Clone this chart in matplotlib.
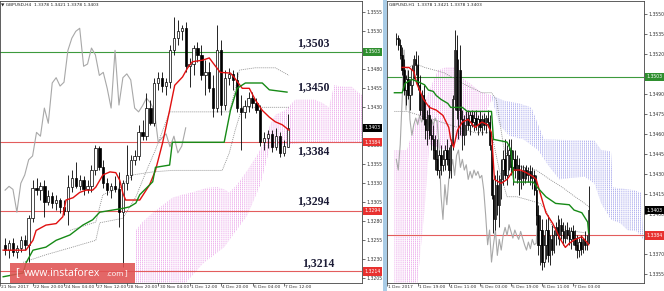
import numpy as np
import matplotlib
matplotlib.use("Agg")
import matplotlib.pyplot as plt
from matplotlib.patches import Rectangle
from matplotlib.transforms import Bbox, TransformedBbox, blended_transform_factory

plt.rcParams["hatch.linewidth"] = 0.45

# ── H4 panel (left) ───────────────────────────────────────────────────────────
H4_OPEN = [1.3249, 1.3242, 1.3251, 1.3240, 1.3245, 1.3255, 1.3249, 1.3284, 1.3324, 1.3321,
           1.3326, 1.3305, 1.3313, 1.3304, 1.3308, 1.3299, 1.3293, 1.3325, 1.3337, 1.3326,
           1.3334, 1.3322, 1.3326, 1.3347, 1.3376, 1.3351, 1.3330, 1.3321, 1.3326, 1.3322,
           1.3292, 1.3330, 1.3341, 1.3361, 1.3366, 1.3397, 1.3392, 1.3429, 1.3409, 1.3462,
           1.3469, 1.3458, 1.3463, 1.3505, 1.3521, 1.3530, 1.3534, 1.3484, 1.3487, 1.3508,
           1.3499, 1.3472, 1.3476, 1.3455, 1.3429, 1.3505, 1.3433, 1.3469, 1.3474, 1.3466,
           1.3429, 1.3424, 1.3432, 1.3442, 1.3436, 1.3426, 1.3384, 1.3390, 1.3395, 1.3378,
           1.3392, 1.3370, 1.3378]
H4_HIGH = [1.3258, 1.3255, 1.3258, 1.3249, 1.3261, 1.3262, 1.3288, 1.3334, 1.3337, 1.3332,
           1.3334, 1.3321, 1.3318, 1.3315, 1.3311, 1.3308, 1.3341, 1.3347, 1.3358, 1.3341,
           1.3340, 1.3334, 1.3354, 1.3380, 1.3379, 1.3361, 1.3337, 1.3330, 1.3340, 1.3345,
           1.3334, 1.3380, 1.3367, 1.3374, 1.3407, 1.3413, 1.3449, 1.3440, 1.3469, 1.3476,
           1.3476, 1.3469, 1.3512, 1.3549, 1.3545, 1.3538, 1.3542, 1.3495, 1.3512, 1.3516,
           1.3512, 1.3492, 1.3490, 1.3472, 1.3538, 1.3519, 1.3479, 1.3482, 1.3479, 1.3476,
           1.3446, 1.3440, 1.3450, 1.3450, 1.3442, 1.3433, 1.3397, 1.3400, 1.3400, 1.3403,
           1.3397, 1.3387, 1.3421]
H4_LOW = [1.3236, 1.3232, 1.3234, 1.3232, 1.3240, 1.3242, 1.3226, 1.3279, 1.3315, 1.3308,
          1.3286, 1.3301, 1.3297, 1.3295, 1.3291, 1.3288, 1.3275, 1.3318, 1.3324, 1.3321,
          1.3315, 1.3317, 1.3318, 1.3341, 1.3347, 1.3324, 1.3315, 1.3311, 1.3318, 1.3272,
          1.3220, 1.3321, 1.3334, 1.3354, 1.3361, 1.3387, 1.3387, 1.3407, 1.3405, 1.3453,
          1.3450, 1.3446, 1.3455, 1.3499, 1.3512, 1.3519, 1.3476, 1.3457, 1.3472, 1.3490,
          1.3466, 1.3446, 1.3450, 1.3417, 1.3424, 1.3420, 1.3426, 1.3459, 1.3453, 1.3424,
          1.3374, 1.3416, 1.3424, 1.3429, 1.3422, 1.3379, 1.3374, 1.3376, 1.3371, 1.3374,
          1.3365, 1.3366, 1.3378]
H4_CLOSE = [1.3242, 1.3251, 1.3240, 1.3245, 1.3255, 1.3249, 1.3284, 1.3324, 1.3321, 1.3326,
            1.3305, 1.3313, 1.3304, 1.3308, 1.3299, 1.3293, 1.3325, 1.3337, 1.3326, 1.3334,
            1.3322, 1.3326, 1.3347, 1.3376, 1.3351, 1.3330, 1.3321, 1.3326, 1.3322, 1.3292,
            1.3330, 1.3341, 1.3361, 1.3366, 1.3397, 1.3392, 1.3429, 1.3409, 1.3462, 1.3469,
            1.3458, 1.3463, 1.3505, 1.3521, 1.3530, 1.3534, 1.3484, 1.3487, 1.3508, 1.3499,
            1.3472, 1.3476, 1.3455, 1.3429, 1.3505, 1.3433, 1.3469, 1.3474, 1.3466, 1.3429,
            1.3424, 1.3432, 1.3442, 1.3436, 1.3426, 1.3384, 1.3390, 1.3395, 1.3378, 1.3392,
            1.3370, 1.3379, 1.3403]

H4_TENKAN_X = [-0.5, 5.3, 7.1, 7.9, 10.4, 13, 14.7, 15.5, 17.3, 19, 20.6, 22.3, 23.1, 24.9,
               26.7, 28.2, 29.2, 30, 30.7, 34.3, 36.8, 38.3, 40.1, 41.9, 43.2, 45.2, 46.5,
               47.7, 50.3, 52, 53.3, 54.8, 57.4, 58.4, 60.4, 62.2, 63.7, 65.5, 67.3, 68.8,
               70.6, 72.3]
H4_TENKAN = [1.3242, 1.3242, 1.3255, 1.3268, 1.3275, 1.3277, 1.3286, 1.3308, 1.3311, 1.3318,
             1.3321, 1.3321, 1.3325, 1.3341, 1.3345, 1.3344, 1.3334, 1.3317, 1.3308, 1.3308,
             1.3328, 1.3347, 1.3383, 1.3426, 1.3459, 1.3470, 1.3482, 1.3490, 1.3492, 1.3495,
             1.3486, 1.3476, 1.3475, 1.3469, 1.3455, 1.3455, 1.3440, 1.3426, 1.3417, 1.3411,
             1.3407, 1.3400]
H4_KIJUN_X = [-0.5, 4.6, 5.3, 7.1, 10.4, 13, 16.5, 19.8, 22.3, 24.1, 30, 31.7, 33.3, 34.3,
              37.6, 38.3, 41.9, 42.6, 55.8, 57.4, 59.1, 61.2, 65.5, 67.3, 71.8]
H4_KIJUN = [1.3207, 1.3212, 1.3225, 1.3242, 1.3246, 1.3255, 1.3262, 1.3275, 1.3282, 1.3292,
            1.3297, 1.3299, 1.3304, 1.3315, 1.3332, 1.3351, 1.3354, 1.3384, 1.3384, 1.3426,
            1.3455, 1.3462, 1.3462, 1.3453, 1.3450]

H4_CLOUD_TOP_X = [33.3, 35.0, 37.6, 40.1, 42.6, 45.2, 47.7, 49.5, 51.5, 54.1, 55.8, 57.1, 59.1,
                  61.7, 64.2, 66.3, 67.5, 68.8, 71.3, 73.9, 78.9, 80.7, 82.5, 83.8, 86.3, 88.3,
                  90.1, 91.4]
H4_CLOUD_TOP = [1.3268, 1.3279, 1.3291, 1.3301, 1.3311, 1.3315, 1.3318, 1.3321, 1.3324, 1.3325,
                1.3322, 1.3318, 1.3328, 1.3347, 1.3367, 1.3387, 1.3407, 1.3420, 1.3426, 1.3440,
                1.3440, 1.3436, 1.3430, 1.3459, 1.3457, 1.3457, 1.3449, 1.3444]
H4_CLOUD_BOT_X = [33.3, 44.4, 50.3, 55.8, 61.7, 65.0, 67.3, 69.3, 75.6, 91.4]
H4_CLOUD_BOT = [1.3190, 1.3190, 1.3224, 1.3246, 1.3288, 1.3328, 1.3374, 1.3380, 1.3383, 1.3383]

H4_DOT1_X = [4.6, 10.4, 16.5, 23.1, 24.1, 30, 33.3, 35.8, 38.3, 41.9, 57.1, 58.4, 59.7, 63.7, 68.8, 72.3]
H4_DOT1 = [1.3226, 1.3236, 1.3245, 1.3255, 1.3278, 1.3284, 1.3312, 1.3344, 1.3374, 1.3424,
           1.3424, 1.3449, 1.3479, 1.3482, 1.3482, 1.3472]
H4_DOT2_X = [16.5, 23.1, 24.9, 29.2, 32.5, 37.6, 42.6, 55.3, 57.1, 58.6, 60.4, 63.7, 72.3]
H4_DOT2 = [1.3268, 1.3279, 1.3315, 1.3324, 1.3341, 1.3345, 1.3347, 1.3347, 1.3370, 1.3400,
           1.3430, 1.3430, 1.3430]

H4_XLABELS = ["21 Nov 2017", "22 Nov 20:00", "24 Nov 04:00", "27 Nov 12:00", "28 Nov 20:00",
              "30 Nov 04:00", "1 Dec 12:00", "4 Dec 20:00", "6 Dec 04:00", "7 Dec 12:00"]
H4_XLABEL_POS = [-1.3, 7.05, 15.05, 23.05, 31.05, 39.05, 47.05, 55.05, 63.05, 71.05]
# 1.3505 and 1.3405 sit fully under the price boxes, so they are left out
H4_YTICKS = [1.3555, 1.3530, 1.3480, 1.3455, 1.3430, 1.3380, 1.3355, 1.3330,
             1.3305, 1.3280, 1.3255, 1.3230, 1.3205]
H4_GREEN_LEVELS = [1.3503]
H4_RED_LEVELS = [1.3384, 1.3294, 1.3214]
H4_LEVEL_TEXT = ["1,3503", "1,3450", "1,3384", "1,3294", "1,3214"]
H4_LEVEL_TEXT_X = [74.3, 74.3, 74.3, 74.3, 75.6]
H4_LEVEL_TEXT_Y = [1.3515, 1.3457, 1.3372, 1.3306, 1.3225]

# ── H1 panel (right) ──────────────────────────────────────────────────────────
H1_OPEN = [1.3531, 1.3532, 1.3527, 1.3519, 1.3508, 1.3493, 1.3501, 1.3489, 1.3497, 1.3508,
           1.3516, 1.3512, 1.3497, 1.3478, 1.3489, 1.3471, 1.3463, 1.3474, 1.3459, 1.3456,
           1.3448, 1.3441, 1.3433, 1.3444, 1.3437, 1.3441, 1.3448, 1.3441, 1.3433, 1.3452,
           1.3486, 1.3523, 1.3478, 1.3508, 1.3471, 1.3459, 1.3467, 1.3472, 1.3467, 1.3474,
           1.3469, 1.3472, 1.3467, 1.3471, 1.3465, 1.3471, 1.3467, 1.3472, 1.3469, 1.3452,
           1.3414, 1.3396, 1.3422, 1.3407, 1.3426, 1.3433, 1.3441, 1.3429, 1.3444, 1.3448,
           1.3435, 1.3441, 1.3433, 1.3437, 1.3426, 1.3432, 1.3427, 1.3433, 1.3429, 1.3432,
           1.3427, 1.3429, 1.3418, 1.3399, 1.3377, 1.3388, 1.3364, 1.3377, 1.3388, 1.3369,
           1.3381, 1.3373, 1.3384, 1.3390, 1.3384, 1.3392, 1.3387, 1.3382, 1.3388, 1.3384,
           1.3381, 1.3387, 1.3382, 1.3377, 1.3373, 1.3379, 1.3374, 1.3381, 1.3377, 1.3378]
H1_HIGH = [1.3536, 1.3534, 1.3531, 1.3525, 1.3516, 1.3504, 1.3508, 1.3501, 1.3512, 1.3519,
           1.3522, 1.3519, 1.3504, 1.3493, 1.3497, 1.3486, 1.3478, 1.3482, 1.3471, 1.3467,
           1.3459, 1.3456, 1.3448, 1.3452, 1.3448, 1.3452, 1.3456, 1.3450, 1.3456, 1.3489,
           1.3538, 1.3534, 1.3516, 1.3527, 1.3478, 1.3474, 1.3477, 1.3478, 1.3477, 1.3478,
           1.3477, 1.3478, 1.3474, 1.3477, 1.3474, 1.3476, 1.3474, 1.3478, 1.3474, 1.3456,
           1.3426, 1.3429, 1.3433, 1.3429, 1.3441, 1.3448, 1.3456, 1.3452, 1.3456, 1.3456,
           1.3448, 1.3448, 1.3444, 1.3442, 1.3437, 1.3437, 1.3435, 1.3437, 1.3435, 1.3437,
           1.3435, 1.3433, 1.3429, 1.3407, 1.3399, 1.3396, 1.3384, 1.3396, 1.3399, 1.3384,
           1.3392, 1.3388, 1.3394, 1.3399, 1.3396, 1.3397, 1.3394, 1.3392, 1.3394, 1.3390,
           1.3390, 1.3392, 1.3388, 1.3384, 1.3382, 1.3384, 1.3382, 1.3387, 1.3384, 1.3421]
H1_LOW = [1.3527, 1.3523, 1.3516, 1.3504, 1.3489, 1.3482, 1.3486, 1.3478, 1.3489, 1.3501,
          1.3504, 1.3493, 1.3474, 1.3471, 1.3467, 1.3456, 1.3452, 1.3456, 1.3448, 1.3441,
          1.3433, 1.3429, 1.3427, 1.3429, 1.3432, 1.3433, 1.3437, 1.3427, 1.3427, 1.3448,
          1.3478, 1.3471, 1.3456, 1.3459, 1.3448, 1.3452, 1.3459, 1.3463, 1.3459, 1.3465,
          1.3462, 1.3463, 1.3459, 1.3462, 1.3459, 1.3463, 1.3461, 1.3465, 1.3448, 1.3411,
          1.3386, 1.3388, 1.3399, 1.3390, 1.3411, 1.3422, 1.3426, 1.3422, 1.3433, 1.3429,
          1.3422, 1.3427, 1.3423, 1.3414, 1.3419, 1.3422, 1.3423, 1.3426, 1.3424, 1.3422,
          1.3419, 1.3414, 1.3392, 1.3369, 1.3362, 1.3358, 1.3360, 1.3366, 1.3364, 1.3362,
          1.3369, 1.3371, 1.3377, 1.3381, 1.3377, 1.3381, 1.3377, 1.3378, 1.3381, 1.3377,
          1.3374, 1.3377, 1.3373, 1.3367, 1.3368, 1.3369, 1.3371, 1.3373, 1.3373, 1.3378]
H1_CLOSE = [1.3532, 1.3527, 1.3519, 1.3508, 1.3493, 1.3501, 1.3489, 1.3497, 1.3508, 1.3516,
            1.3512, 1.3497, 1.3478, 1.3489, 1.3471, 1.3463, 1.3474, 1.3459, 1.3456, 1.3448,
            1.3441, 1.3433, 1.3444, 1.3437, 1.3441, 1.3448, 1.3441, 1.3433, 1.3452, 1.3486,
            1.3523, 1.3478, 1.3508, 1.3471, 1.3459, 1.3467, 1.3472, 1.3467, 1.3474, 1.3469,
            1.3472, 1.3467, 1.3471, 1.3465, 1.3471, 1.3467, 1.3472, 1.3469, 1.3452, 1.3414,
            1.3396, 1.3422, 1.3407, 1.3426, 1.3433, 1.3441, 1.3429, 1.3444, 1.3448, 1.3435,
            1.3441, 1.3433, 1.3437, 1.3426, 1.3432, 1.3427, 1.3433, 1.3429, 1.3432, 1.3427,
            1.3429, 1.3418, 1.3399, 1.3377, 1.3388, 1.3364, 1.3377, 1.3388, 1.3369, 1.3381,
            1.3373, 1.3384, 1.3390, 1.3384, 1.3392, 1.3387, 1.3382, 1.3388, 1.3384, 1.3381,
            1.3387, 1.3382, 1.3377, 1.3373, 1.3379, 1.3374, 1.3381, 1.3377, 1.3378, 1.3403]

H1_TENKAN_X = [3, 4, 6.5, 9, 10.5, 14, 17, 20.5, 24, 27, 28, 29.5, 31.5, 34, 37, 40.5, 44, 47,
               49, 50.5, 54, 57, 60.5, 64, 67, 70.5, 72, 74, 77, 80.5, 84.5, 87, 89, 92, 95.5,
               98, 99]
H1_TENKAN = [1.3510, 1.3510, 1.3510, 1.3507, 1.3498, 1.3486, 1.3480, 1.3478, 1.3474, 1.3465,
             1.3456, 1.3450, 1.3463, 1.3469, 1.3471, 1.3465, 1.3469, 1.3467, 1.3461, 1.3426,
             1.3423, 1.3426, 1.3433, 1.3433, 1.3431, 1.3428, 1.3426, 1.3416, 1.3401, 1.3393,
             1.3381, 1.3375, 1.3378, 1.3381, 1.3383, 1.3379, 1.3377]
H1_KIJUN_X = [-1, 3, 4.5, 8, 11.5, 14.5, 16.5, 19, 20.5, 23, 26.5, 28, 34, 36.5, 48, 49, 50,
              57, 59, 60.5, 70.5, 72, 77, 82, 89, 91.5, 95.5, 98.5, 99]
H1_KIJUN = [1.3491, 1.3491, 1.3498, 1.3501, 1.3499, 1.3497, 1.3493, 1.3492, 1.3489, 1.3486,
            1.3483, 1.3480, 1.3480, 1.3477, 1.3477, 1.3477, 1.3456, 1.3454, 1.3448, 1.3424,
            1.3424, 1.3421, 1.3413, 1.3408, 1.3407, 1.3403, 1.3401, 1.3394, 1.3386]

H1_PINK_TOP_X = [-1, 5.5, 9.5, 13, 16.5, 21.5, 25.5, 30.5, 34, 38, 43, 49]
H1_PINK_TOP = [1.3448, 1.3448, 1.3467, 1.3478, 1.3491, 1.3508, 1.3510, 1.3510, 1.3502, 1.3498,
               1.3492, 1.3489]
H1_PINK_BOT_X = [-1, 10.5, 14.5, 17, 25.5, 33, 38, 45.5, 49]
H1_PINK_BOT = [1.3343, 1.3343, 1.3403, 1.3452, 1.3448, 1.3456, 1.3471, 1.3474, 1.3486]
H1_BLUE_TOP_X = [49, 55.5, 63, 69.5, 73, 76, 102, 105.5, 110.5, 111.5, 122, 126, 127]
H1_BLUE_TOP = [1.3489, 1.3485, 1.3483, 1.3480, 1.3467, 1.3456, 1.3455, 1.3448, 1.3447, 1.3420,
               1.3418, 1.3416, 1.3386]
H1_BLUE_BOT_X = [49, 53, 58, 65.5, 73, 78, 84, 89, 97, 102, 105.5, 110.5, 115.5, 119, 124, 127]
H1_BLUE_BOT = [1.3488, 1.3467, 1.3459, 1.3456, 1.3448, 1.3437, 1.3426, 1.3427, 1.3428, 1.3423,
               1.3408, 1.3396, 1.3393, 1.3388, 1.3387, 1.3381]

H1_DOT1_X = [4.5, 9.5, 14.5, 19.5, 24.5, 35.5, 44, 49, 51.5, 55.5, 60.5, 65.5, 72, 79, 85.5,
             92, 97, 99.5]
H1_DOT1 = [1.3508, 1.3513, 1.3510, 1.3508, 1.3506, 1.3497, 1.3491, 1.3491, 1.3486, 1.3448,
           1.3438, 1.3435, 1.3433, 1.3426, 1.3420, 1.3413, 1.3408, 1.3405]
H1_DOT2_X = [-1, 5.5, 40.5, 49, 53, 57, 62, 67, 74, 77, 80.5, 87, 97]
H1_DOT2 = [1.3477, 1.3477, 1.3461, 1.3461, 1.3433, 1.3413, 1.3413, 1.3411, 1.3408, 1.3403,
           1.3390, 1.3388, 1.3386]

H1_XLABELS = ["1 Dec 2017", "1 Dec 19:00", "4 Dec 11:00", "5 Dec 03:00", "5 Dec 19:00",
              "6 Dec 11:00", "7 Dec 03:00"]
H1_XLABEL_POS = [-4.8, 11.2, 27.2, 43.2, 59.2, 75.2, 91.2]
# 1.3505 and 1.3385 sit fully under the price boxes, so they are left out
H1_YTICKS = [1.3550, 1.3535, 1.3520, 1.3490, 1.3475, 1.3460, 1.3445, 1.3430, 1.3415,
             1.3400, 1.3370, 1.3355]
H1_GREEN_LEVELS = [1.3503]
H1_RED_LEVELS = [1.3384]

LAST_BAR = "1.3378 1.3421 1.3378 1.3403"
CHIKOU_SHIFT = 26

# ── colours ───────────────────────────────────────────────────────────────────
RED_LVL, GREEN_LVL = "#e35d5d", "#3d9a3d"
TENKAN_C, KIJUN_C, CHIKOU_C = "#e01010", "#168a16", "#a8a8a8"
PINK, BLUE = "#e48ae4", "#8a8ae6"

W, H = 664, 291
fig = plt.figure(figsize=(W / 100, H / 100), dpi=100)
fig.patch.set_facecolor("white")


def px_box(x0, x1, y0, y1):
    return [x0 / W, 1 - y1 / H, (x1 - x0) / W, (y1 - y0) / H]


axL = fig.add_axes(px_box(0, 362, 1, 283))
axR = fig.add_axes(px_box(387, 644, 1, 283))


def candles(ax, o, h, l, c, width):
    o, h, l, c = map(np.asarray, (o, h, l, c))
    x = np.arange(len(o))
    ax.vlines(x, l, h, color="black", lw=0.6, zorder=4)
    body = np.maximum(np.abs(c - o), 0.00008)
    cols = ["white" if cc >= oo else "black" for oo, cc in zip(o, c)]
    ax.bar(x, body, width, bottom=np.minimum(o, c), color=cols,
           edgecolor="black", linewidth=0.5, zorder=5)


def cloud(ax, tx, ty, bx, by, color):
    xs = list(tx) + list(bx)[::-1]
    ys = list(ty) + list(by)[::-1]
    ax.fill(xs, ys, facecolor="none", edgecolor=color, hatch="||||||||", lw=0, zorder=1)
    ax.fill(xs, ys, facecolor="none", edgecolor="white", hatch="--------", lw=0, zorder=1.1)


def style_panel(ax, xlim, ylim, yticks, boxes, xpos, xlabels, clip_px):
    ax.set_xlim(*xlim)
    ax.set_ylim(*ylim)
    ax.yaxis.tick_right()
    ax.set_yticks(yticks)
    ax.set_yticklabels([f"{v:.4f}" for v in yticks])
    ax.tick_params(axis="y", labelsize=3.3, length=2, width=0.5, pad=1.5, colors="#333333")
    ax.set_xticks(xpos)
    ax.tick_params(axis="x", length=2, width=0.5, labelbottom=False, colors="#333333")
    for s in ax.spines.values():
        s.set_linewidth(0.6)
        s.set_color("#444444")
    tr = blended_transform_factory(ax.transAxes, ax.transData)
    for val, col in boxes:
        ax.annotate(f"{val:.4f}", xy=(1, val), xycoords=tr, xytext=(1.6, 0),
                    textcoords="offset points", ha="left", va="center", fontsize=3.3,
                    color="white", zorder=10, annotation_clip=False,
                    bbox=dict(boxstyle="square,pad=0.35", fc=col, ec=col, lw=0))
    trx = blended_transform_factory(ax.transData, ax.transAxes)
    clip = TransformedBbox(Bbox.from_extents(clip_px[0] / W, 0, clip_px[1] / W, 1),
                           fig.transFigure)
    for p, s in zip(xpos, xlabels):
        t = ax.text(p + 0.3, -0.008, s, transform=trx, ha="left", va="top",
                    fontsize=3.2, color="#333333")
        t.set_clip_on(True)
        t.set_clip_box(clip)


# ── left panel ────────────────────────────────────────────────────────────────
cloud(axL, H4_CLOUD_TOP_X, H4_CLOUD_TOP, H4_CLOUD_BOT_X, H4_CLOUD_BOT, PINK)
for v in H4_RED_LEVELS:
    axL.axhline(v, color=RED_LVL, lw=0.8, zorder=2)
for v in H4_GREEN_LEVELS:
    axL.axhline(v, color=GREEN_LVL, lw=0.8, zorder=2)
for xs, ys in [(H4_DOT1_X, H4_DOT1), (H4_DOT2_X, H4_DOT2)]:
    axL.plot(xs, ys, color="#8c8c8c", lw=0.6, ls=(0, (1.2, 1.2)), zorder=2)
axL.plot(np.arange(len(H4_CLOSE) - CHIKOU_SHIFT), H4_CLOSE[CHIKOU_SHIFT:],
         color=CHIKOU_C, lw=0.8, zorder=3)
candles(axL, H4_OPEN, H4_HIGH, H4_LOW, H4_CLOSE, 0.6)
axL.plot(H4_TENKAN_X, H4_TENKAN, color=TENKAN_C, lw=1.0, zorder=6)
axL.plot(H4_KIJUN_X, H4_KIJUN, color=KIJUN_C, lw=1.0, zorder=6)
for s, x, y in zip(H4_LEVEL_TEXT, H4_LEVEL_TEXT_X, H4_LEVEL_TEXT_Y):
    axL.text(x, y, s, fontsize=8.5, fontweight="bold", family="Liberation Serif",
             color="#1c1c36", ha="left", va="center", zorder=12)
style_panel(axL, (-0.5, 90.9), (1.31988, 1.35699), H4_YTICKS,
            [(1.3503, "#2f8f2f"), (1.3403, "black"), (1.3384, "#e8312f"),
             (1.3294, "#e8312f"), (1.3214, "#e8312f")],
            H4_XLABEL_POS, H4_XLABELS, (0, 383))

# ── right panel ───────────────────────────────────────────────────────────────
cloud(axR, H1_PINK_TOP_X, H1_PINK_TOP, H1_PINK_BOT_X, H1_PINK_BOT, PINK)
cloud(axR, H1_BLUE_TOP_X, H1_BLUE_TOP, H1_BLUE_BOT_X, H1_BLUE_BOT, BLUE)
for v in H1_RED_LEVELS:
    axR.axhline(v, color=RED_LVL, lw=0.8, zorder=2)
for v in H1_GREEN_LEVELS:
    axR.axhline(v, color=GREEN_LVL, lw=0.8, zorder=2)
for xs, ys in [(H1_DOT1_X, H1_DOT1), (H1_DOT2_X, H1_DOT2)]:
    axR.plot(xs, ys, color="#8c8c8c", lw=0.6, ls=(0, (1.2, 1.2)), zorder=2)
axR.plot(np.arange(len(H1_CLOSE) - CHIKOU_SHIFT), H1_CLOSE[CHIKOU_SHIFT:],
         color=CHIKOU_C, lw=0.8, zorder=3)
candles(axR, H1_OPEN, H1_HIGH, H1_LOW, H1_CLOSE, 0.7)
axR.plot(H1_TENKAN_X, H1_TENKAN, color=TENKAN_C, lw=1.0, zorder=6)
axR.plot(H1_KIJUN_X, H1_KIJUN, color=KIJUN_C, lw=1.0, zorder=6)
style_panel(axR, (-1, 127.5), (1.33483, 1.35598), H1_YTICKS,
            [(1.3503, "#2f8f2f"), (1.3403, "black"), (1.3384, "#e8312f")],
            H1_XLABEL_POS, H1_XLABELS, (387, 664))

# ── headers, separator, watermark ─────────────────────────────────────────────
fig.text(1 / W, 1 - 4.5 / H, "\u25bc GBPUSD,H4  " + LAST_BAR, fontsize=3.2,
         color="#222222", va="center", zorder=30)
fig.text(389 / W, 1 - 4.5 / H, "GBPUSD,H1  " + LAST_BAR, fontsize=3.2,
         color="#222222", va="center", zorder=30)
fig.add_artist(Rectangle((383 / W, 0), 4 / W, 1, transform=fig.transFigure,
                         fc="#a9cce6", ec="none", zorder=15))
fig.add_artist(Rectangle((10 / W, 1 - 283 / H), 125 / W, 20 / H, transform=fig.transFigure,
                         fc="#e05252", ec="none", alpha=0.88, zorder=20))
ymid = 1 - 273 / H
fig.text(15 / W, ymid, "[", fontsize=8, color="white", va="center", family="Open Sans", zorder=21)
fig.text(24 / W, ymid, "www.instaforex", fontsize=7.6, color="white", va="center",
         family="Open Sans", zorder=21)
fig.text(106 / W, ymid - 0.004, ".com", fontsize=5.6, color="white", va="center",
         family="Open Sans", zorder=21)
fig.text(125 / W, ymid, "]", fontsize=6, color="white", va="center", family="Open Sans", zorder=21)

fig.savefig("out.png", dpi=100, facecolor="white")
